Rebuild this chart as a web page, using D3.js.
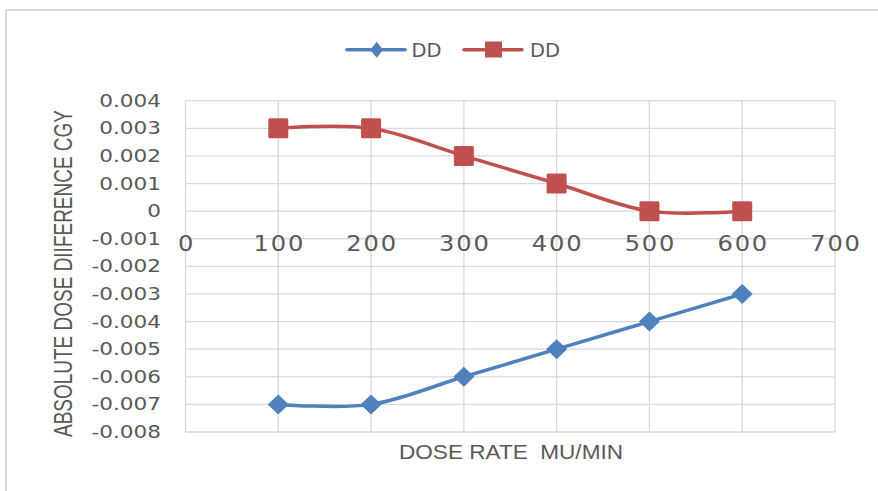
<!DOCTYPE html>
<html>
<head>
<meta charset="utf-8">
<script src="https://cdn.jsdelivr.net/npm/d3@7"></script>
<style>
  html, body { margin: 0; padding: 0; background: #fff; }
  svg { display: block; }
</style>
</head>
<body>
<svg id="chart" width="878" height="491"></svg>
<script>
// ---- data ----
const doseRates = [100, 200, 300, 400, 500, 600];
const seriesBlue = [-0.007, -0.007, -0.006, -0.005, -0.004, -0.003];
const seriesRed = [0.003, 0.003, 0.002, 0.001, 0, 0];
const seriesNames = ["DD", "DD"];
const xTicks = [0, 100, 200, 300, 400, 500, 600, 700];
const yTicks = [0.004, 0.003, 0.002, 0.001, 0, -0.001, -0.002, -0.003, -0.004, -0.005, -0.006, -0.007, -0.008];
const xTitle = "DOSE RATE  MU/MIN";
const yTitle = "ABSOLUTE DOSE DIIFERENCE CGY";

const svg = d3.select("#chart");
const blue = "#4F81BD", red = "#C0504D", grid = "#d9d9d9", txt = "#595959";

// frame
svg.append("line").attr("x1", 5).attr("x2", 878).attr("y1", 10).attr("y2", 10)
  .attr("stroke", "#dadada").attr("stroke-width", 2);
svg.append("line").attr("x1", 6).attr("x2", 6).attr("y1", 10).attr("y2", 491)
  .attr("stroke", "#dadada").attr("stroke-width", 2);

const x = d3.scaleLinear().domain([0, 700]).range([185.5, 835]);
const y = d3.scaleLinear().domain([-0.008, 0.004]).range([432, 100.7]);

// gridlines
const g = svg.append("g");
g.selectAll(".vg").data(xTicks).join("line")
  .attr("x1", d => x(d)).attr("x2", d => x(d))
  .attr("y1", y(0.004)).attr("y2", y(-0.008))
  .attr("stroke", grid).attr("stroke-width", 1.3);
g.selectAll(".hg").data(yTicks).join("line")
  .attr("x1", x(0)).attr("x2", x(700))
  .attr("y1", d => y(d)).attr("y2", d => y(d))
  .attr("stroke", grid).attr("stroke-width", 1.3);

// y tick labels
const yFmt = d => d === 0 ? "0" : d3.format(".3f")(d).replace("−", "-");
svg.selectAll(".yt").data(yTicks).join("text")
  .attr("transform", d => `translate(161,${y(d) + 6}) scale(1.27,1)`)
  .attr("text-anchor", "end")
  .attr("font-family", "DejaVu Sans").attr("font-size", 17)
  .attr("fill", txt)
  .text(yFmt);

// x tick labels
svg.selectAll(".xt").data(xTicks).join("text")
  .attr("transform", d => `translate(${x(d) + 1},${251}) scale(1.15,1)`)
  .attr("text-anchor", "middle")
  .attr("font-family", "DejaVu Sans").attr("font-size", 21)
  .attr("letter-spacing", 1.6)
  .attr("fill", txt)
  .text(d => String(d));

// axis titles
svg.append("text")
  .attr("x", 511).attr("y", 459)
  .attr("text-anchor", "middle")
  .attr("font-family", "Liberation Sans").attr("font-size", 21)
  .attr("textLength", 224).attr("lengthAdjust", "spacingAndGlyphs")
  .attr("fill", txt)
  .style("white-space", "pre")
  .text(xTitle);

svg.append("text")
  .attr("transform", `translate(72,273.5) rotate(-90) scale(1,1.38)`)
  .attr("text-anchor", "middle")
  .attr("font-family", "Liberation Sans").attr("font-size", 19)
  .attr("textLength", 327).attr("lengthAdjust", "spacingAndGlyphs")
  .attr("fill", txt)
  .text(yTitle);

// lines
const line = d3.line()
  .x((d, i) => x(doseRates[i]))
  .y(d => y(d))
  .curve(d3.curveCatmullRom.alpha(0));

svg.append("path").datum(seriesRed).attr("d", line)
  .attr("fill", "none").attr("stroke", red).attr("stroke-width", 3.5);
svg.append("path").datum(seriesBlue).attr("d", line)
  .attr("fill", "none").attr("stroke", blue).attr("stroke-width", 3.5);

// markers
svg.selectAll(".sq").data(seriesRed).join("rect")
  .attr("x", (d, i) => x(doseRates[i]) - 10)
  .attr("y", d => y(d) - 10)
  .attr("width", 20).attr("height", 20).attr("rx", 1.5)
  .attr("fill", red);
svg.selectAll(".dm").data(seriesBlue).join("path")
  .attr("d", (d, i) => {
    const cx = x(doseRates[i]), cy = y(d);
    return `M${cx},${cy - 10}L${cx + 10.5},${cy}L${cx},${cy + 10}L${cx - 10.5},${cy}Z`;
  })
  .attr("fill", blue);

// legend
const lg = svg.append("g");
lg.append("line").attr("x1", 347).attr("x2", 405).attr("y1", 49.7).attr("y2", 49.7)
  .attr("stroke", blue).attr("stroke-width", 3.5).attr("stroke-linecap", "round");
lg.append("path").attr("d", "M376.7,41.7L383.2,49.7L376.7,57.7L370.2,49.7Z").attr("fill", blue);
lg.append("text").attr("x", 411.5).attr("y", 57.3)
  .attr("font-family", "DejaVu Sans").attr("font-size", 19)
  .attr("textLength", 30).attr("lengthAdjust", "spacingAndGlyphs")
  .attr("fill", txt).text(seriesNames[0]);

lg.append("line").attr("x1", 464).attr("x2", 522).attr("y1", 49.7).attr("y2", 49.7)
  .attr("stroke", red).attr("stroke-width", 3.5).attr("stroke-linecap", "round");
lg.append("rect").attr("x", 485).attr("y", 41.5).attr("width", 17).attr("height", 16)
  .attr("fill", red);
lg.append("text").attr("x", 530).attr("y", 57.3)
  .attr("font-family", "DejaVu Sans").attr("font-size", 19)
  .attr("textLength", 30).attr("lengthAdjust", "spacingAndGlyphs")
  .attr("fill", txt).text(seriesNames[1]);
</script>
</body>
</html>
